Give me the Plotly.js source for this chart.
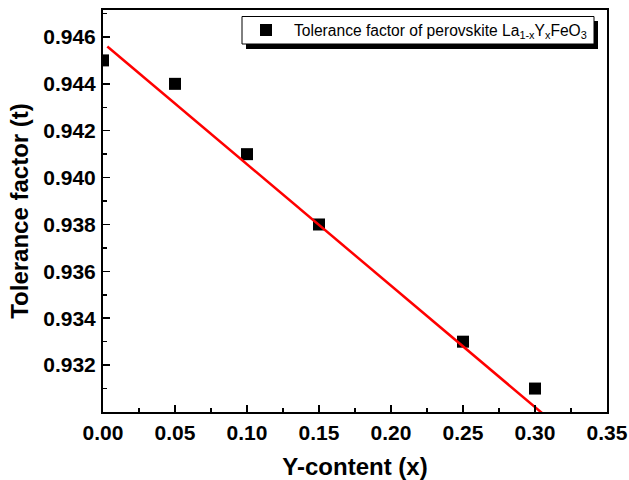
<!DOCTYPE html>
<html>
<head>
<meta charset="utf-8">
<script src="https://cdn.plot.ly/plotly-3.0.1.min.js"></script>
<style>html,body{margin:0;padding:0;background:#fff;}#chart{width:629px;height:480px;}</style>
</head>
<body>
<div id="chart"></div>
<script>
// Data
const yContent = [0.00, 0.05, 0.10, 0.15, 0.25, 0.30];
const toleranceFactor = [0.945, 0.944, 0.941, 0.938, 0.933, 0.931];
const seriesName = 'Tolerance factor of perovskite La<sub>1-x</sub>Y<sub>x</sub>FeO<sub>3</sub>';

// Linear fit as drawn in the reference
const fitIntercept = 0.94575;
const fitSlope = -0.0518;
const fitXRange = [0.003, 0.31];

const xTickVals = [0.00, 0.05, 0.10, 0.15, 0.20, 0.25, 0.30, 0.35];
const xTickText = ['0.00', '0.05', '0.10', '0.15', '0.20', '0.25', '0.30', '0.35'];
const yTickVals = [0.932, 0.934, 0.936, 0.938, 0.940, 0.942, 0.944, 0.946];
const yTickText = ['0.932', '0.934', '0.936', '0.938', '0.940', '0.942', '0.944', '0.946'];

const fitX = fitXRange;
const fitY = fitXRange.map(x => fitIntercept + fitSlope * x);

const FONT = 'Arial, "Liberation Sans", sans-serif';

const traces = [
  {
    x: yContent, y: toleranceFactor, type: 'scatter', mode: 'markers',
    name: seriesName, showlegend: false,
    marker: {symbol: 'square', size: 12, color: '#000000'},
    cliponaxis: true
  },
  {
    x: fitX, y: fitY, type: 'scatter', mode: 'lines',
    showlegend: false, hoverinfo: 'skip',
    line: {color: '#ff0000', width: 2.5}
  }
];

const W = 629, H = 480, L = 103, R = 22, T = 10, B = 68;
const pw = W - L - R, ph = H - T - B;
const px = v => (v - L) / pw;
const py = v => 1 - (v - T) / ph;

const layout = {
  width: W, height: H,
  margin: {l: L, r: R, t: T, b: B, pad: 0},
  paper_bgcolor: '#ffffff', plot_bgcolor: '#ffffff',
  font: {family: FONT, color: '#000000'},
  showlegend: false,
  xaxis: {
    range: [0, 0.35],
    tickmode: 'array', tickvals: xTickVals, ticktext: xTickText,
    ticks: 'inside', ticklen: 7, tickwidth: 1.5, tickcolor: '#000',
    minor: {ticks: 'inside', ticklen: 4, tickwidth: 1.5, tickcolor: '#000', dtick: 0.025, tick0: 0, showgrid: false},
    showline: true, linecolor: '#000', linewidth: 2, mirror: true,
    showgrid: false, zeroline: false,
    tickfont: {family: FONT, size: 21, color: '#000', weight: 'bold'},
    ticklabelstandoff: 1,
    title: {text: '<b>Y-content (x)</b>', font: {family: FONT, size: 24, color: '#000'}, standoff: 18}
  },
  yaxis: {
    range: [0.930, 0.94715],
    tickmode: 'array', tickvals: yTickVals, ticktext: yTickText,
    ticks: 'inside', ticklen: 7, tickwidth: 1.5, tickcolor: '#000',
    minor: {ticks: 'inside', ticklen: 4, tickwidth: 1.5, tickcolor: '#000', dtick: 0.001, tick0: 0.930, showgrid: false},
    showline: true, linecolor: '#000', linewidth: 2, mirror: true,
    showgrid: false, zeroline: false,
    tickfont: {family: FONT, size: 21, color: '#000', weight: 'bold'},
    ticklabelstandoff: 1,
    title: {text: '<b>Tolerance factor (t)</b>', font: {family: FONT, size: 24, color: '#000'}, standoff: 8}
  },
  shapes: [
    // legend shadow
    {type: 'rect', xref: 'paper', yref: 'paper', layer: 'above',
     x0: px(246), x1: px(598), y0: py(49), y1: py(21),
     fillcolor: '#000000', line: {width: 0}},
    // legend box
    {type: 'rect', xref: 'paper', yref: 'paper', layer: 'above',
     x0: px(242), x1: px(594), y0: py(44), y1: py(16.5),
     fillcolor: '#ffffff', line: {color: '#000000', width: 1}},
    // legend symbol
    {type: 'rect', xref: 'paper', yref: 'paper', layer: 'above',
     x0: px(260), x1: px(272), y0: py(36), y1: py(24),
     fillcolor: '#000000', line: {width: 0}}
  ],
  annotations: [
    {xref: 'paper', yref: 'paper', x: px(292), y: py(31), xanchor: 'left', yanchor: 'middle',
     text: seriesName, showarrow: false,
     font: {family: FONT, size: 15.6, color: '#000'}}
  ]
};

Plotly.newPlot('chart', traces, layout, {displayModeBar: false, staticPlot: true});
</script>
</body>
</html>
